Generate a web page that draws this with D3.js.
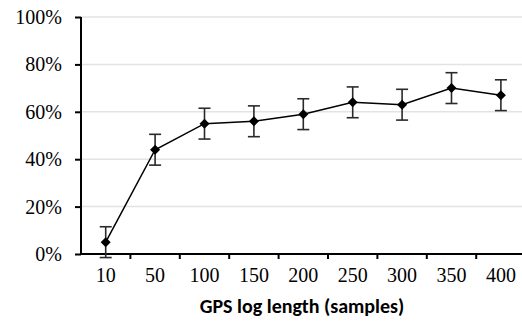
<!DOCTYPE html>
<html><head><meta charset="utf-8">
<script src="https://cdn.jsdelivr.net/npm/d3@7"></script>
<style>body{margin:0;background:#fff}svg{display:block}</style>
</head><body><svg id="c" width="522" height="321"></svg>
<script>
const categories = ["10","50","100","150","200","250","300","350","400"];
const values = [5,44,55,56,59,64,63,70,67];
const errors = [6.5,6.5,6.5,6.5,6.5,6.5,6.5,6.5,6.5];
const yTicks = [0,20,40,60,80,100];

const SERIF = "Liberation Serif";
const svg = d3.select("#c");
const x = d3.scaleBand().domain(categories).range([81, 525.6]);
const y = d3.scaleLinear().domain([0,100]).range([254, 17]);

// gridlines
svg.append("g").selectAll("line").data(yTicks.filter(d=>d>0)).join("line")
  .attr("x1",81).attr("x2",522).attr("y1",d=>y(d)).attr("y2",d=>y(d))
  .attr("stroke","#e3e3e3").attr("stroke-width",1.5);

// y axis
const ya = svg.append("g").attr("transform","translate(81,0)")
  .call(d3.axisLeft(y).tickValues(yTicks).tickFormat(d=>d+"%").tickSize(6).tickPadding(13));
ya.attr("font-family",null).attr("font-size",null);
ya.select(".domain").attr("stroke","#000").attr("stroke-width",2).attr("d","M0,"+y(100)+"V"+y(0));
ya.selectAll(".tick line").attr("stroke","#000").attr("stroke-width",2);
ya.selectAll("text").attr("font-family",SERIF).style("font-family",SERIF)
  .attr("font-size",20).attr("fill","#000");

// x axis
const xa = svg.append("g").attr("transform","translate(0,254)")
  .call(d3.axisBottom(x).tickSize(0).tickPadding(14));
xa.attr("font-family",null).attr("font-size",null);
xa.select(".domain").attr("stroke","#000").attr("stroke-width",2).attr("d","M81,0H525.6");
xa.selectAll("text").attr("font-family",SERIF).style("font-family",SERIF)
  .attr("font-size",20).attr("fill","#000");
svg.append("g").selectAll("line").data(categories.slice(1)).join("line")
  .attr("x1",d=>x(d)).attr("x2",d=>x(d)).attr("y1",254).attr("y2",259)
  .attr("stroke","#000").attr("stroke-width",2);

svg.append("text").attr("x",302).attr("y",313).attr("text-anchor","middle")
  .attr("font-family","Carlito").style("font-family","Carlito").attr("font-weight","bold")
  .attr("font-size",20)
  .text("GPS log length (samples)");

const cx = d => x(d) + x.bandwidth()/2;
const pts = categories.map((c,i)=>({c, v:values[i], e:errors[i]}));

// error bars
const eb = svg.append("g").attr("stroke","#2a2a2a").attr("stroke-width",1.6);
pts.forEach(p=>{
  eb.append("line").attr("x1",cx(p.c)).attr("x2",cx(p.c)).attr("y1",y(p.v+p.e)).attr("y2",y(p.v-p.e));
  eb.append("line").attr("x1",cx(p.c)-6).attr("x2",cx(p.c)+6).attr("y1",y(p.v+p.e)).attr("y2",y(p.v+p.e));
  eb.append("line").attr("x1",cx(p.c)-6).attr("x2",cx(p.c)+6).attr("y1",y(p.v-p.e)).attr("y2",y(p.v-p.e));
});

svg.append("path").datum(pts)
  .attr("d",d3.line().x(p=>cx(p.c)).y(p=>y(p.v)))
  .attr("fill","none").attr("stroke","#000").attr("stroke-width",1.5);

svg.append("g").selectAll("path").data(pts).join("path")
  .attr("transform",p=>`translate(${cx(p.c)},${y(p.v)})`)
  .attr("d",d3.symbol(d3.symbolDiamond2, 64)).attr("fill","#000");
</script></body></html>
